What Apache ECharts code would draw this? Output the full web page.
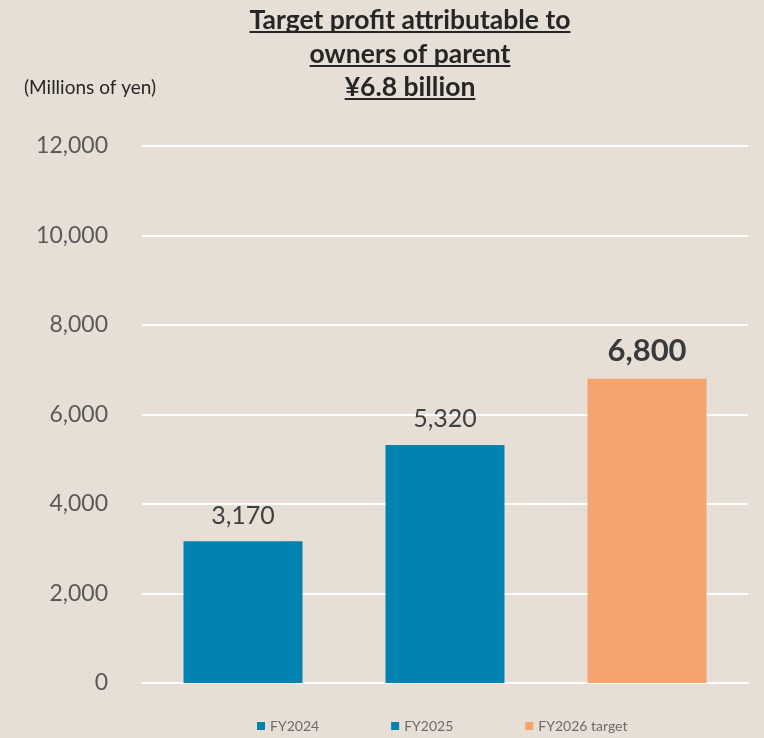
<!DOCTYPE html>
<html><head><meta charset="utf-8">
<script src="https://cdn.jsdelivr.net/npm/echarts@6/dist/echarts.min.js"></script>
<style>html,body{margin:0;padding:0;background:#E7DFD5;}#c{width:764px;height:738px;}</style>
</head><body><div id="c"></div>
<script>
var categories = ['FY2024', 'FY2025', 'FY2026 target'];
var values = [3170, 5320, 6800];
var colors = ['#0083B0', '#0083B0', '#F4A46C'];
var titleLines = ['Target profit attributable to', 'owners of parent', '¥6.8 billion'];
var unitLabel = '(Millions of yen)';
var yTicks = { min: 0, max: 12000, interval: 2000 };

var FONT = 'Lato';
var chart = echarts.init(document.getElementById('c'));

var series = categories.map(function (name, i) {
  var d = categories.map(function (_, j) { return j === i ? values[i] : '-'; });
  var last = i === categories.length - 1;
  return {
    name: name, type: 'bar', data: d, barWidth: 119, barGap: '-100%',
    itemStyle: { color: colors[i] },
    label: {
      show: true, position: 'top', distance: last ? 12 : 13,
      fontFamily: FONT, color: last ? '#3A3A3A' : '#404040',
      fontSize: last ? 31 : 25, fontWeight: last ? 'bold' : 'normal',
      formatter: function (p) { return echarts.format.addCommas(p.value); }
    }
  };
});

var cv = document.createElement('canvas').getContext('2d');
var titleSize = 26.5, cx = 410, baselines = [28, 62, 95];
var graphics = [];
titleLines.forEach(function (t, i) {
  var font = 'bold ' + titleSize + 'px ' + FONT;
  graphics.push({ type: 'text', x: cx, y: baselines[i] - 21, z: 10,
    style: { text: t, font: font, fill: '#262626', align: 'center', verticalAlign: 'top' } });
  cv.font = font;
  var w = cv.measureText(t).width;
  graphics.push({ type: 'rect', z: 10,
    shape: { x: cx - w / 2, y: baselines[i] + 3, width: w, height: 2 },
    style: { fill: '#262626' } });
});
graphics.push({ type: 'text', x: 24, y: 93 - 15,
  style: { text: unitLabel, font: '19px ' + FONT, fill: '#262626', verticalAlign: 'top' } });

chart.setOption({
  backgroundColor: '#E7DFD5',
  animation: false,
  grid: { left: 142, right: 16, top: 146, bottom: 55, containLabel: false },
  legend: {
    data: categories, top: 714, left: 252, itemWidth: 8, itemHeight: 8, itemGap: 72,
    icon: 'rect', textStyle: { fontFamily: FONT, fontSize: 14, color: '#6B6B6B' }
  },
  xAxis: {
    type: 'category', data: categories,
    axisLine: { show: true, lineStyle: { color: '#FFFFFF', width: 2 } },
    axisTick: { show: false }, axisLabel: { show: false }
  },
  yAxis: {
    type: 'value', min: yTicks.min, max: yTicks.max, interval: yTicks.interval,
    axisLine: { show: false }, axisTick: { show: false },
    axisLabel: { fontFamily: FONT, fontSize: 23, color: '#595959', margin: 34,
      formatter: function (v) { return echarts.format.addCommas(v); } },
    splitLine: { lineStyle: { color: '#FFFFFF', width: 2 } }
  },
  graphic: graphics,
  series: series
});
</script></body></html>
